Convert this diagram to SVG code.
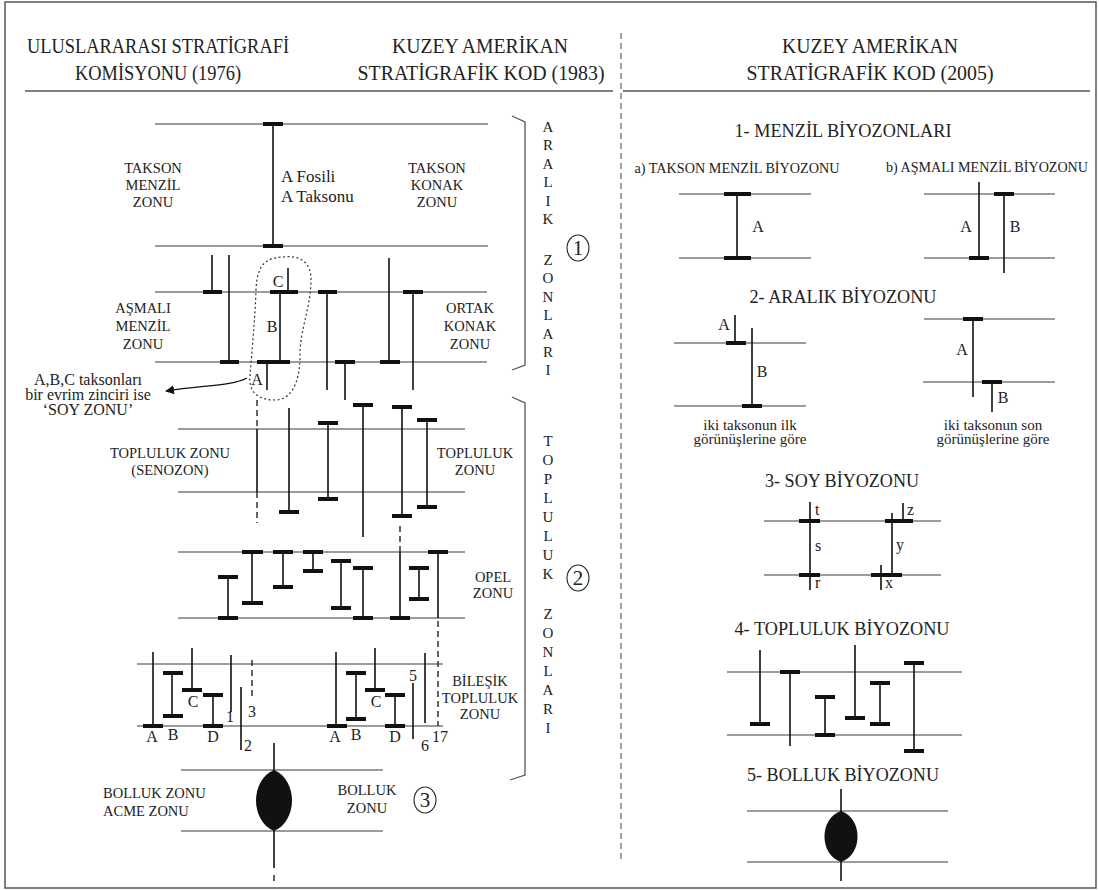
<svg xmlns="http://www.w3.org/2000/svg" width="1099" height="890" viewBox="0 0 1099 890">
<defs>
<style>
text{font-family:"Liberation Serif","DejaVu Serif",serif;fill:#222}
.h{font-size:20px;text-anchor:middle}
.t{font-size:19px;text-anchor:middle}
.s{font-size:14px;text-anchor:middle}
.lb{font-size:14.5px;text-anchor:middle}
.l{font-size:16px;text-anchor:middle}
.v{font-size:15px;text-anchor:middle}
.ln{stroke:#3a3a3a;stroke-width:1.2;fill:none}
.bar{stroke:#111;stroke-width:1.6;fill:none}
.cap{stroke:#111;stroke-width:4;fill:none}
.dash{stroke:#222;stroke-width:1.4;stroke-dasharray:6 4;fill:none}
.frm{stroke:#555;stroke-width:1.5;fill:none}
.br{stroke:#555;stroke-width:1.3;fill:none}
.circ{stroke:#222;stroke-width:1.1;fill:none}
</style>
<marker id="ah" viewBox="0 0 10 10" refX="9" refY="5" markerWidth="9" markerHeight="9" markerUnits="userSpaceOnUse" orient="auto">
<path d="M0 0 L10 5 L0 10 Z" fill="#111"/>
</marker>
</defs>
<rect width="1099" height="890" fill="#fff"/>
<rect class="frm" x="5" y="2" width="1091" height="886"/>

<g id="header">
<text class="h" x="158" y="53" textLength="262" lengthAdjust="spacingAndGlyphs">ULUSLARARASI STRATİGRAFİ</text>
<text class="h" x="158" y="80" textLength="166" lengthAdjust="spacingAndGlyphs">KOMİSYONU (1976)</text>
<text class="h" x="480" y="53" textLength="176" lengthAdjust="spacingAndGlyphs">KUZEY AMERİKAN</text>
<text class="h" x="481" y="80" textLength="247" lengthAdjust="spacingAndGlyphs">STRATİGRAFİK KOD (1983)</text>
<text class="h" x="870" y="53" textLength="176" lengthAdjust="spacingAndGlyphs">KUZEY AMERİKAN</text>
<text class="h" x="870" y="80" textLength="247" lengthAdjust="spacingAndGlyphs">STRATİGRAFİK KOD (2005)</text>
<path class="frm" d="M25 91 H613 M623 91 H1090"/>
<path d="M621 33 V862" stroke="#444" stroke-width="1" stroke-dasharray="6 4" fill="none"/>
</g>

<g id="takson-zonu">
<path class="ln" d="M155 124 H488 M155 246 H488"/>
<path class="bar" d="M273 124 V246"/>
<path class="cap" d="M263 124 H283 M263 246 H283"/>
<text class="lb" x="153" y="173">TAKSON</text>
<text class="lb" x="153" y="190">MENZİL</text>
<text class="lb" x="153" y="207">ZONU</text>
<text style="font-size:17px" x="281" y="182">A Fosili</text>
<text style="font-size:17px" x="281" y="202">A Taksonu</text>
<text class="lb" x="437" y="173">TAKSON</text>
<text class="lb" x="437" y="190">KONAK</text>
<text class="lb" x="437" y="207">ZONU</text>
</g>

<g id="asmali-zonu">
<path class="ln" d="M155 292 H487 M155 362 H487"/>
<path class="bar" d="M212 255 V292 M229 255 V362 M288 268 V292 M280 292 V362 M267 362 V390 M327 292 V390 M345 362 V400 M389 258 V362 M413 292 V390"/>
<path class="cap" d="M203 292 H222 M220 362 H239 M270 292 H298 M257 362 H290 M318 292 H337 M335 362 H355 M380 362 H400 M403 292 H423"/>
<path d="M283 257 C300 255 312 262 311 282 C310 310 300 330 300 355 C300 385 290 400 275 400 C258 400 248 392 250 375 C252 350 255 320 256 290 C257 265 265 258 283 257 Z" stroke="#333" stroke-width="1.2" stroke-dasharray="2 2.5" fill="none"/>
<text class="l" x="278" y="287">C</text>
<text class="l" x="272" y="332">B</text>
<text class="l" x="257" y="385">A</text>
<text class="lb" x="143" y="313">AŞMALI</text>
<text class="lb" x="143" y="331">MENZİL</text>
<text class="lb" x="143" y="349">ZONU</text>
<text class="lb" x="470" y="313">ORTAK</text>
<text class="lb" x="470" y="331">KONAK</text>
<text class="lb" x="470" y="349">ZONU</text>
</g>

<g id="soy-notu">
<text class="l" x="88" y="385">A,B,C taksonları</text>
<text class="l" x="88" y="400">bir evrim zinciri ise</text>
<text class="l" x="88" y="415">‘SOY ZONU’</text>
</g>

<g id="topluluk-zonu">
<path class="ln" d="M178 429 H465 M178 492 H465"/>
<path class="dash" d="M257 400 V429 M257 492 V523"/>
<path class="bar" d="M257 429 V492 M289 408 V512 M328 423 V499 M363 405 V537 M402 407 V516 M427 420 V507"/>
<path class="cap" d="M279 512 H299 M318 423 H338 M318 499 H338 M353 405 H373 M392 407 H412 M392 516 H412 M417 420 H437 M417 507 H437"/>
<text class="lb" x="170" y="458">TOPLULUK ZONU</text>
<text class="lb" x="170" y="475">(SENOZON)</text>
<text class="lb" x="475" y="458">TOPLULUK</text>
<text class="lb" x="475" y="475">ZONU</text>
</g>

<g id="opel-zonu">
<path class="ln" d="M178 552 H465 M178 618 H465"/>
<path class="dash" d="M400 526 V552 M438 621 V726"/>
<path class="bar" d="M228 577 V618 M252 552 V603 M283 552 V587 M313 552 V571 M341 561 V608 M363 568 V618 M400 552 V618 M419 568 V599 M438 552 V618"/>
<path class="cap" d="M218 577 H238 M218 618 H238 M242 552 H263 M242 603 H263 M273 552 H293 M273 587 H293 M303 552 H323 M303 571 H323 M331 561 H351 M331 608 H351 M353 568 H373 M353 618 H373 M390 618 H410 M409 568 H429 M409 599 H429 M428 552 H448"/>
<text class="lb" x="493" y="582">OPEL</text>
<text class="lb" x="493" y="598">ZONU</text>
</g>

<g id="bilesik-zonu">
<path class="ln" d="M137 664 H443 M137 726 H443"/>
<path class="bar" d="M153 652 V726 M172 673 V716 M192 648 V690 M213 695 V726 M231 655 V712 M241 687 V750 M336 652 V726 M356 673 V719 M375 648 V690 M395 695 V726 M413 683 V739 M425 653 V723"/>
<path class="dash" d="M252 660 V700"/>
<path class="cap" d="M143 726 H163 M163 673 H183 M163 716 H183 M182 690 H202 M203 695 H223 M203 726 H223 M327 726 H347 M346 673 H366 M346 719 H366 M365 690 H385 M385 695 H405 M385 726 H405"/>
<text class="l" x="152" y="742">A</text>
<text class="l" x="173" y="740">B</text>
<text class="l" x="193" y="707">C</text>
<text class="l" x="213" y="742">D</text>
<text class="l" x="230" y="722">1</text>
<text class="l" x="248" y="751">2</text>
<text class="l" x="252" y="717">3</text>
<text class="l" x="335" y="742">A</text>
<text class="l" x="356" y="740">B</text>
<text class="l" x="376" y="707">C</text>
<text class="l" x="395" y="742">D</text>
<text class="l" x="413" y="681">5</text>
<text class="l" x="425" y="751">6</text>
<text class="l" x="440" y="742">17</text>
<text class="lb" x="480" y="686">BİLEŞİK</text>
<text class="lb" x="480" y="703">TOPLULUK</text>
<text class="lb" x="480" y="719">ZONU</text>
</g>

<g id="bolluk-zonu">
<path class="ln" d="M181 770 H383 M181 831 H383"/>
<path class="bar" d="M274 743 V868"/>
<path class="dash" d="M274 875 V882"/>
<path d="M274 770 C286 775 292 788 292 800.5 C292 813 286 826 274 831 C262 826 256 813 256 800.5 C256 788 262 775 274 770 Z" fill="#111"/>
<text style="font-size:14.5px" x="103" y="798">BOLLUK ZONU</text>
<text style="font-size:14.5px" x="103" y="816">ACME ZONU</text>
<text class="lb" x="367" y="795">BOLLUK</text>
<text class="lb" x="367" y="813">ZONU</text>
</g>

<g id="brackets">
<path class="br" d="M512 116 L525 122 V365 L512 370"/>
<path class="br" d="M512 397 L525 403 V775 L510 780"/>
<text class="v" x="548" y="132">A</text><text class="v" x="548" y="150">R</text><text class="v" x="548" y="169">A</text><text class="v" x="548" y="187">L</text><text class="v" x="548" y="206">I</text><text class="v" x="548" y="224">K</text>
<text class="v" x="548" y="265">Z</text><text class="v" x="548" y="283">O</text><text class="v" x="548" y="302">N</text><text class="v" x="548" y="320">L</text><text class="v" x="548" y="339">A</text><text class="v" x="548" y="357">R</text><text class="v" x="548" y="375">I</text>
<text class="v" x="548" y="446">T</text><text class="v" x="548" y="465">O</text><text class="v" x="548" y="484">P</text><text class="v" x="548" y="503">L</text><text class="v" x="548" y="522">U</text><text class="v" x="548" y="541">L</text><text class="v" x="548" y="560">U</text><text class="v" x="548" y="579">K</text>
<text class="v" x="548" y="619">Z</text><text class="v" x="548" y="638">O</text><text class="v" x="548" y="657">N</text><text class="v" x="548" y="676">L</text><text class="v" x="548" y="695">A</text><text class="v" x="548" y="714">R</text><text class="v" x="548" y="733">I</text>
<ellipse class="circ" cx="578" cy="248" rx="11" ry="13"/>
<text style="font-size:21px;text-anchor:middle" x="578" y="255">1</text>
<ellipse class="circ" cx="578" cy="578" rx="11" ry="13"/>
<text style="font-size:21px;text-anchor:middle" x="578" y="585">2</text>
<ellipse class="circ" cx="425" cy="800" rx="11" ry="13"/>
<text style="font-size:21px;text-anchor:middle" x="425" y="807">3</text>
</g>

<g id="connectors">
<path d="M247 378 C232 386 205 385 166 391" stroke="#111" stroke-width="1.3" fill="none" marker-end="url(#ah)"/>
</g>

<g id="menzil-biyozonlari">
<text class="t" x="843" y="137" textLength="217" lengthAdjust="spacingAndGlyphs">1- MENZİL BİYOZONLARI</text>
<text class="s" x="737" y="173" textLength="205" lengthAdjust="spacingAndGlyphs">a) TAKSON MENZİL BİYOZONU</text>
<text class="s" x="987" y="172" textLength="202" lengthAdjust="spacingAndGlyphs">b) AŞMALI MENZİL BİYOZONU</text>
<path class="ln" d="M679 194 H811 M679 258 H811 M924 194 H1055 M924 258 H1055"/>
<path class="bar" d="M737 194 V258 M979 182 V258 M1004 194 V273"/>
<path class="cap" d="M724 194 H751 M724 258 H751 M969 258 H989 M994 194 H1014"/>
<text class="l" x="758" y="232">A</text>
<text class="l" x="966" y="232">A</text>
<text class="l" x="1015" y="232">B</text>
</g>

<g id="aralik-biyozonu">
<text class="t" x="843" y="303" textLength="187" lengthAdjust="spacingAndGlyphs">2- ARALIK BİYOZONU</text>
<path class="ln" d="M674 343 H806 M674 406 H806 M924 319 H1055 M923 382 H1055"/>
<path class="bar" d="M735 315 V343 M752 328 V406 M973 319 V397 M992 382 V412"/>
<path class="cap" d="M726 343 H746 M742 406 H762 M963 319 H983 M982 382 H1002"/>
<text class="l" x="724" y="330">A</text>
<text class="l" x="762" y="377">B</text>
<text class="l" x="962" y="355">A</text>
<text class="l" x="1003" y="403">B</text>
<text style="font-size:15px;text-anchor:middle" x="750" y="430">iki taksonun ilk</text>
<text style="font-size:15px;text-anchor:middle" x="750" y="444">görünüşlerine göre</text>
<text style="font-size:15px;text-anchor:middle" x="993" y="430">iki taksonun son</text>
<text style="font-size:15px;text-anchor:middle" x="993" y="444">görünüşlerine göre</text>
</g>

<g id="soy-biyozonu">
<text class="t" x="842" y="487" textLength="154" lengthAdjust="spacingAndGlyphs">3- SOY BİYOZONU</text>
<path class="ln" d="M764 521 H941 M764 575 H941"/>
<path class="bar" d="M810 502 V590 M892 513 V575 M903 503 V521 M881 565 V590"/>
<path class="cap" d="M799 521 H820 M799 575 H820 M885 521 H913 M871 575 H902"/>
<text style="font-size:16px" x="815" y="515">t</text>
<text style="font-size:16px" x="815" y="551">s</text>
<text style="font-size:16px" x="815" y="588">r</text>
<text style="font-size:16px" x="907" y="515">z</text>
<text style="font-size:16px" x="896" y="550">y</text>
<text style="font-size:16px" x="885" y="588">x</text>
</g>

<g id="topluluk-biyozonu">
<text class="t" x="842" y="635" textLength="215" lengthAdjust="spacingAndGlyphs">4- TOPLULUK BİYOZONU</text>
<path class="ln" d="M727 672 H962 M727 735 H962"/>
<path class="bar" d="M760 650 V724 M790 672 V746 M825 697 V735 M855 645 V718 M880 683 V724 M914 663 V751"/>
<path class="cap" d="M750 724 H770 M780 672 H800 M815 697 H835 M815 735 H835 M845 718 H865 M870 683 H890 M870 724 H890 M904 663 H924 M904 751 H924"/>
</g>

<g id="bolluk-biyozonu">
<text class="t" x="843" y="781" textLength="192" lengthAdjust="spacingAndGlyphs">5- BOLLUK BİYOZONU</text>
<path class="ln" d="M747 811 H948 M747 862 H948"/>
<path class="bar" d="M841 789 V881"/>
<path d="M841 811 C852 815 857.5 825 857.5 836.5 C857.5 848 852 858 841 862 C830 858 824.5 848 824.5 836.5 C824.5 825 830 815 841 811 Z" fill="#111"/>
</g>
</svg>
